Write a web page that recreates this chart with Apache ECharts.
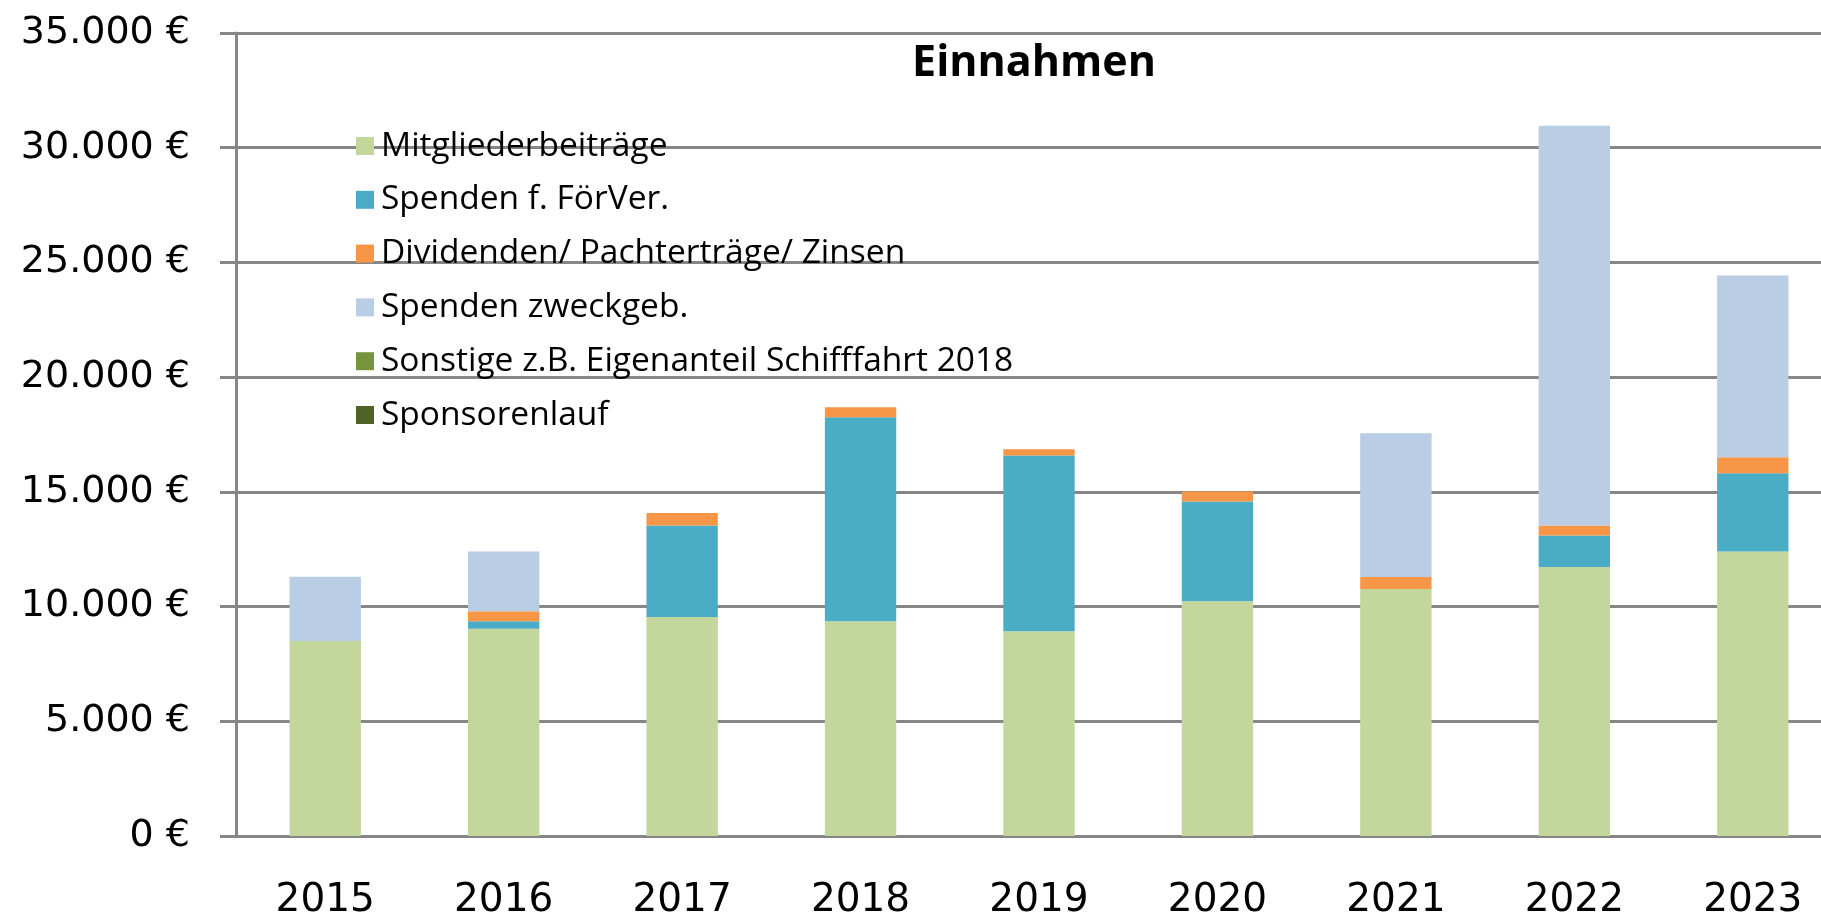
<!DOCTYPE html>
<html>
<head>
    <meta charset="utf-8">
    <title>Einnahmen</title>
    <script src="https://cdn.jsdelivr.net/npm/echarts@6/dist/echarts.min.js"></script>
    <style>
        html, body { margin: 0; padding: 0; background: #fff; overflow: hidden; }
        /* Diagramm ist rechts angeschnitten: Zeichenfläche breiter als das Fenster */
        #chart { width: 1842px; height: 920px; }
    </style>
</head>
<body>
<div id="chart"></div>
<script>
    // Jahre
    var jahre = ['2015', '2016', '2017', '2018', '2019', '2020', '2021', '2022', '2023'];

    // Einnahmen je Kategorie (in Euro)
    var mitgliederbeitraege = [8500, 9030, 9550, 9360, 8925, 10230, 10770, 11725, 12400];
    var spendenFoerVer      = [0, 330, 3985, 8890, 7655, 4350, 0, 1375, 3410];
    var dividenden          = [0, 435, 540, 435, 275, 435, 520, 435, 695];
    var spendenZweckgeb     = [2800, 2610, 0, 0, 0, 0, 6260, 17420, 7925];
    var sonstige            = [0, 0, 0, 0, 0, 0, 0, 0, 0];
    var sponsorenlauf       = [0, 0, 0, 0, 0, 0, 0, 0, 0];

    var namen = ['Mitgliederbeiträge', 'Spenden f. FörVer.', 'Dividenden/ Pachterträge/ Zinsen',
        'Spenden zweckgeb.', 'Sonstige z.B. Eigenanteil Schifffahrt 2018', 'Sponsorenlauf'];
    var farben = ['#C3D69B', '#4BACC6', '#F79646', '#B9CDE5', '#77933C', '#4F6228'];
    var werte = [mitgliederbeitraege, spendenFoerVer, dividenden, spendenZweckgeb, sonstige, sponsorenlauf];

    var grau = '#868686';
    var schrift = '"Open Sans", "Noto Sans", sans-serif';

    function euro(v) {
        return String(v).replace(/\B(?=(\d{3})+(?!\d))/g, '.') + ' €';
    }

    var myChart = echarts.init(document.getElementById('chart'));

    var serien = [];
    for (var i = 0; i < namen.length; i++) {
        serien.push({
            name: namen[i],
            type: 'bar',
            stack: 'summe',
            barWidth: '40%',
            itemStyle: { color: farben[i] },
            data: werte[i]
        });
    }

    // zusätzliche Achsen nur für die Striche in Kategoriemitte (kreuzend)
    var extraAchse = function (inside) {
        return {
            type: 'category',
            data: jahre,
            position: 'bottom',
            axisLine: { show: false },
            axisLabel: { show: false },
            splitLine: { show: false },
            axisTick: { alignWithLabel: true, inside: inside, length: 10, lineStyle: { color: grau, width: 2 } }
        };
    };

    myChart.setOption({
        animation: false,
        title: {
            text: 'Einnahmen',
            left: 1029,
            top: 37,
            textAlign: 'center',
            textStyle: { fontFamily: schrift, fontSize: 43, fontWeight: 'bold', color: '#000' }
        },
        legend: {
            orient: 'vertical',
            left: 351,
            top: 124,
            itemWidth: 18,
            itemHeight: 18,
            itemGap: 19.8,
            icon: 'rect',
            data: namen,
            textStyle: { fontFamily: schrift, fontSize: 33.5, lineHeight: 30, color: '#000', padding: [0, 0, 0, 2] }
        },
        grid: { left: 236, right: 0, top: 33, bottom: 83 },
        xAxis: [{
            type: 'category',
            data: jahre,
            position: 'bottom',
            axisLine: { lineStyle: { color: grau, width: 3 } },
            axisTick: { alignWithLabel: false, length: 14, lineStyle: { color: grau, width: 2 } },
            axisLabel: { margin: 45, fontFamily: '"DejaVu Sans"', fontSize: 39, color: '#000' }
        }, extraAchse(true), extraAchse(false)],
        yAxis: {
            type: 'value',
            min: 0,
            max: 35000,
            interval: 5000,
            axisLine: { show: true, lineStyle: { color: grau, width: 3 } },
            axisTick: { show: true, length: 16, lineStyle: { color: grau, width: 3 } },
            splitLine: { lineStyle: { color: grau, width: 3 } },
            axisLabel: { margin: 46, fontFamily: '"DejaVu Sans"', fontSize: 38, color: '#000', formatter: euro }
        },
        series: serien
    });
</script>
</body>
</html>
